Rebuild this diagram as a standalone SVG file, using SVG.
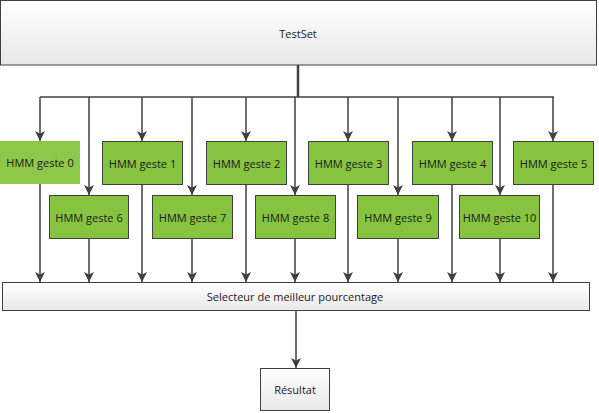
<svg xmlns="http://www.w3.org/2000/svg" width="599" height="413" viewBox="0 0 599 413">
<defs>
<linearGradient id="gw" x1="0" y1="0" x2="0" y2="1">
<stop offset="0" stop-color="#ffffff"/>
<stop offset="1" stop-color="#e8e8e8"/>
</linearGradient>
<marker id="ah" viewBox="0 0 10 10" refX="10" refY="5" markerWidth="10" markerHeight="10" markerUnits="userSpaceOnUse" orient="auto">
<path d="M0,0 L10,5 L0,10 L2.5,5 Z" fill="#404040"/>
</marker>
<style>
.t{font-family:"Open Sans","Noto Sans",sans-serif;font-size:11px;fill:#1a1a1a;text-anchor:middle;dominant-baseline:central}
.g{fill:#86c440;stroke:#404040;stroke-width:1}
.w{fill:url(#gw);stroke:#404040;stroke-width:1}
.c{fill:none;stroke:#404040;stroke-width:1.5}
.a{fill:none;stroke:#404040;stroke-width:1.5;marker-end:url(#ah)}
</style>
</defs>
<g id="connectors">
<path d="M298,65 V97" fill="none" stroke="#404040" stroke-width="2.5"/>
<path class="c" d="M40,97 H554"/>
<path class="a" d="M40,97 V141"/>
<path class="a" d="M142,97 V141"/>
<path class="a" d="M246,97 V141"/>
<path class="a" d="M348,97 V141"/>
<path class="a" d="M452,97 V141"/>
<path class="a" d="M553,97 V141"/>
<path class="a" d="M89,97 V195"/>
<path class="a" d="M192,97 V195"/>
<path class="a" d="M295,97 V195"/>
<path class="a" d="M398,97 V195"/>
<path class="a" d="M500,97 V195"/>
<path class="a" d="M40,184 V282"/>
<path class="a" d="M142,184 V282"/>
<path class="a" d="M246,184 V282"/>
<path class="a" d="M348,184 V282"/>
<path class="a" d="M452,184 V282"/>
<path class="a" d="M553,184 V282"/>
<path class="a" d="M89,238 V282"/>
<path class="a" d="M192,238 V282"/>
<path class="a" d="M295,238 V282"/>
<path class="a" d="M398,238 V282"/>
<path class="a" d="M500,238 V282"/>
<path class="a" d="M296,311 V368"/>
</g>
<g id="testset"><rect class="w" x="0.5" y="0.5" width="596" height="64.5"/><text class="t" x="298" y="33">TestSet</text></g>
<g id="hmm0"><rect x="0" y="141" width="80" height="43" fill="#8dc84a"/><text class="t" x="40" y="162.5">HMM geste 0</text></g>
<g id="hmm1"><rect class="g" x="102.5" y="141.5" width="80" height="43"/><text class="t" x="142.5" y="163">HMM geste 1</text></g>
<g id="hmm2"><rect class="g" x="206.5" y="141.5" width="80" height="43"/><text class="t" x="246.5" y="163">HMM geste 2</text></g>
<g id="hmm3"><rect class="g" x="308.5" y="141.5" width="80" height="43"/><text class="t" x="348.5" y="163">HMM geste 3</text></g>
<g id="hmm4"><rect class="g" x="412.5" y="141.5" width="80" height="43"/><text class="t" x="452.5" y="163">HMM geste 4</text></g>
<g id="hmm5"><rect class="g" x="513.5" y="141.5" width="80" height="43"/><text class="t" x="553.5" y="163">HMM geste 5</text></g>
<g id="hmm6"><rect class="g" x="49.5" y="195.5" width="79" height="43"/><text class="t" x="89" y="217">HMM geste 6</text></g>
<g id="hmm7"><rect class="g" x="152.5" y="195.5" width="80" height="43"/><text class="t" x="192.5" y="217">HMM geste 7</text></g>
<g id="hmm8"><rect class="g" x="255.5" y="195.5" width="80" height="43"/><text class="t" x="295.5" y="217">HMM geste 8</text></g>
<g id="hmm9"><rect class="g" x="357.5" y="195.5" width="81" height="43"/><text class="t" x="398" y="217">HMM geste 9</text></g>
<g id="hmm10"><rect class="g" x="459.5" y="195.5" width="80" height="43"/><text class="t" x="499.5" y="217">HMM geste 10</text></g>
<g id="selecteur"><rect class="w" x="2.5" y="282.5" width="587" height="28"/><text class="t" x="295" y="296.5">Selecteur de meilleur pourcentage</text></g>
<g id="resultat"><rect class="w" x="260.5" y="368.5" width="69" height="42"/><text class="t" x="295" y="389.5">Résultat</text></g>
</svg>
